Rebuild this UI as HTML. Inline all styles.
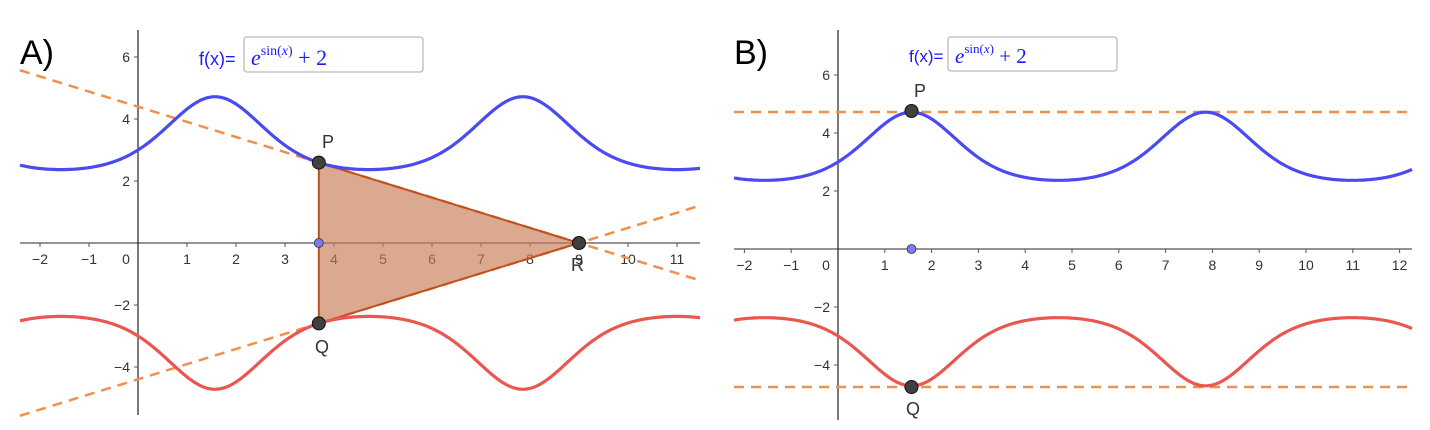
<!DOCTYPE html>
<html><head><meta charset="utf-8"><style>
html,body{margin:0;padding:0;background:#fff;}
svg{display:block;font-family:"Liberation Sans",sans-serif;}
.t{font-size:14px;fill:#333;}
</style></head><body>
<svg id="s" width="1430" height="430" xmlns="http://www.w3.org/2000/svg">
<g id="A"></g>
<g id="B"></g>
<text x="20" y="64" font-size="34" fill="#000" font-family="Liberation Sans, sans-serif">A)</text>
<text x="734" y="64" font-size="34" fill="#000" font-family="Liberation Sans, sans-serif">B)</text>
<text x="199" y="65" font-size="18" fill="#1a1aff">f(x)=</text>
<rect x="244" y="37" width="179" height="35" rx="3" fill="#fff" stroke="#bbb" stroke-width="1.3"/>
<text x="251" y="65" font-size="22" fill="#1a1aff" font-family="Liberation Serif, serif"><tspan font-style="italic">e</tspan><tspan font-size="14" dy="-10">sin(</tspan><tspan font-size="14" font-style="italic">x</tspan><tspan font-size="14">)</tspan><tspan dy="10"> + 2</tspan></text>
<text x="909" y="62" font-size="17" fill="#1a1aff">f(x)=</text>
<rect x="948" y="37" width="169" height="34" rx="3" fill="#fff" stroke="#bbb" stroke-width="1.3"/>
<text x="955" y="63" font-size="21" fill="#1a1aff" font-family="Liberation Serif, serif"><tspan font-style="italic">e</tspan><tspan font-size="13" dy="-10">sin(</tspan><tspan font-size="13" font-style="italic">x</tspan><tspan font-size="13">)</tspan><tspan dy="10"> + 2</tspan></text>
</svg>
<script>
var NS="http://www.w3.org/2000/svg";
function el(p,n,a,txt){var e=document.createElementNS(NS,n);for(var k in a)e.setAttribute(k,a[k]);if(txt!==undefined)e.textContent=txt;p.appendChild(e);return e;}
function f(x){return Math.exp(Math.sin(x))+2;}
function panel(g,o){
 var X=function(x){return o.ox+x*o.sx;},Y=function(y){return o.oy-y*o.sy;};
 el(g,"line",{x1:o.x0,y1:o.oy,x2:o.x1,y2:o.oy,stroke:"#555","stroke-width":1.2});
 el(g,"line",{x1:o.ox,y1:o.yt,x2:o.ox,y2:o.yb,stroke:"#222","stroke-width":1.2});
 for(var i=o.xmin;i<=o.xmax;i++){ if(i==0)continue;
  el(g,"line",{x1:X(i),y1:o.oy,x2:X(i),y2:o.oy+4,stroke:"#555"});
  el(g,"text",{x:X(i),y:o.oy+21,"text-anchor":"middle","class":"t"},(i<0?"\u2212"+(-i):""+i));}
 el(g,"text",{x:o.ox-12,y:o.oy+21,"text-anchor":"middle","class":"t"},"0");
 [6,4,2,-2,-4].forEach(function(v){el(g,"line",{x1:o.ox-4,y1:Y(v),x2:o.ox,y2:Y(v),stroke:"#555"});
  el(g,"text",{x:o.ox-8,y:Y(v)+5,"text-anchor":"end","class":"t"},(v<0?"\u2212"+(-v):""+v));});
 o.extra(g,X,Y);
 var a="",b="";
 for(var px=o.x0;px<=o.x1;px+=1){var x=(px-o.ox)/o.sx;a+=(a?"L":"M")+px+","+Y(f(x)).toFixed(1);b+=(b?"L":"M")+px+","+Y(-f(x)).toFixed(1);}
 el(g,"path",{d:a,fill:"none",stroke:"#4a4af0","stroke-width":3.2});
 el(g,"path",{d:b,fill:"none",stroke:"#ea5650","stroke-width":3.2});
 o.pts(g,X,Y);
}
function pt(g,x,y){el(g,"circle",{cx:x,cy:y,r:6.5,fill:"#404040",stroke:"#111","stroke-width":1});}
function lbl(g,x,y,t){el(g,"text",{x:x,y:y,"font-size":18,fill:"#333"},t);}
var xp=3.69;
panel(document.getElementById("A"),{ox:138,sx:49,oy:243,sy:31,x0:20,x1:700,yt:30,yb:415,xmin:-2,xmax:11,
 extra:function(g,X,Y){
  var Px=X(xp),Py=Y(f(xp)),Qy=Y(-f(xp)),Rx=579,Ry=243;
  var m=(Ry-Py)/(Rx-Px);
  el(g,"line",{x1:20,y1:Py-(Px-20)*m,x2:700,y2:Ry+(700-Rx)*m,stroke:"#f0904c","stroke-width":2.5,"stroke-dasharray":"10,7"});
  el(g,"line",{x1:20,y1:Qy+(Px-20)*m,x2:700,y2:Ry-(700-Rx)*m,stroke:"#f0904c","stroke-width":2.5,"stroke-dasharray":"10,7"});
  el(g,"polygon",{points:Px+","+Py+" "+Rx+","+Ry+" "+Px+","+Qy,fill:"#c87a55","fill-opacity":0.65,stroke:"#c0501e","stroke-width":2});
 },
 pts:function(g,X,Y){var Px=X(xp);
  el(g,"circle",{cx:Px,cy:243,r:4.5,fill:"#7b7bf5",stroke:"#333","stroke-width":0.8});
  pt(g,Px,Y(f(xp)));pt(g,Px,Y(-f(xp)));pt(g,579,243);
  lbl(g,322,148,"P");lbl(g,315,353,"Q");lbl(g,571,271,"R");}
});
panel(document.getElementById("B"),{ox:838,sx:46.8,oy:249,sy:29,x0:734,x1:1412,yt:30,yb:420,xmin:-2,xmax:12,
 extra:function(g,X,Y){
  el(g,"line",{x1:734,y1:112,x2:1410,y2:112,stroke:"#f0904c","stroke-width":2.5,"stroke-dasharray":"10,7"});
  el(g,"line",{x1:734,y1:387,x2:1410,y2:387,stroke:"#f0904c","stroke-width":2.5,"stroke-dasharray":"10,7"});
 },
 pts:function(g,X,Y){var Px=X(Math.PI/2);
  el(g,"circle",{cx:Px,cy:249,r:4.5,fill:"#7b7bf5",stroke:"#333","stroke-width":0.8});
  pt(g,Px,111);pt(g,Px,387);
  lbl(g,914,97,"P");lbl(g,906,415,"Q");}
});
</script>
</body></html>
